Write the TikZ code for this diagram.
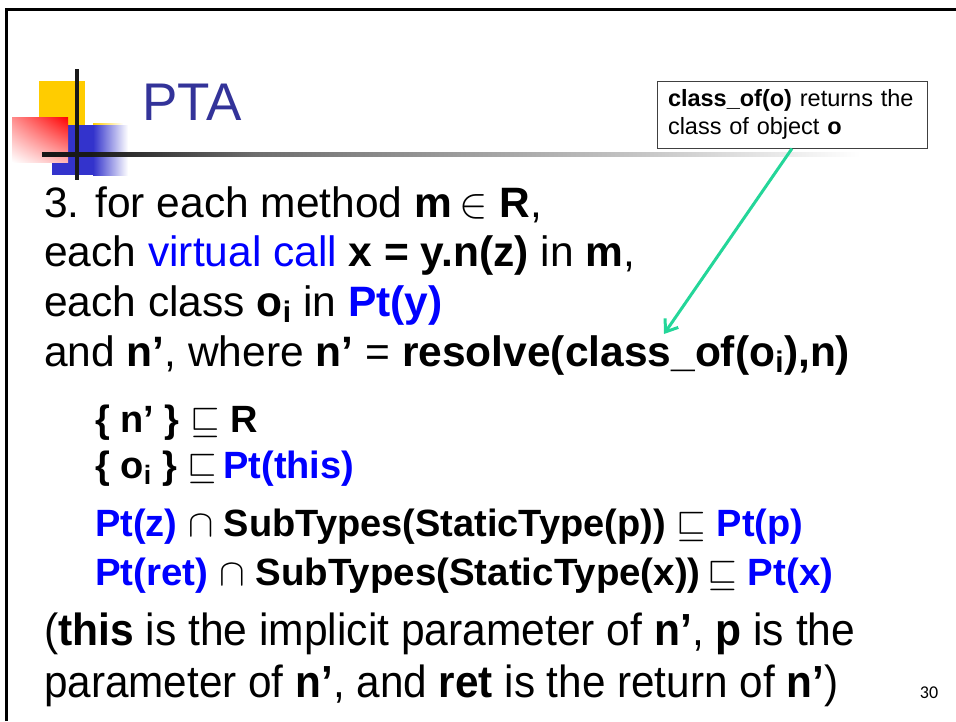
\RequirePackage{fix-cm}
\documentclass[tikz,border=0pt]{standalone}
\usepackage{fontspec}
\setmainfont{Liberation Sans}
\newfontfamily\pagefont{Carlito}
\usetikzlibrary{arrows.meta,shadings}

\definecolor{ptablue}{RGB}{51,51,153}
\definecolor{callblue}{RGB}{0,0,255}
\definecolor{logoyellow}{RGB}{255,204,0}
\definecolor{logoblue}{RGB}{51,51,204}
\definecolor{pointgreen}{RGB}{36,214,153}

\pgfdeclarehorizontalshading{rulefade}{100bp}{color(0bp)=(black); color(28bp)=(black!90); color(38bp)=(black!57); color(62bp)=(black!22); color(75bp)=(white); color(100bp)=(white)}

\newcommand\squeeze[2]{\resizebox{#1}{\height}{#2}}

\begin{document}
\begin{tikzpicture}[x=1pt, y=-1pt]

\tikzstyle{mainline} = [anchor=base west, inner sep=0pt, font=\fontsize{42.5}{48}\selectfont]
\tikzstyle{condline} = [anchor=base west, inner sep=0pt, font=\fontsize{38}{42}\selectfont\bfseries]
\tikzstyle{noteline} = [anchor=base west, inner sep=0pt, font=\fontsize{45}{50}\selectfont]
\tikzstyle{callout} = [draw=black!75, line width=1pt, fill=white, minimum width=270pt, minimum height=67pt, text width=248pt, align=left, font=\fontsize{23.5}{28}\selectfont]

\useasboundingbox (0,0) rectangle (956,721);

% slide frame
\draw[line width=3pt] (6,721) -- (6,9.5) -- (956,9.5);

% logo
\fill[logoyellow] (39,81) rectangle (85,125);
\shade[left color=logoyellow, right color=white] (93,123) rectangle (123,125);
\fill[logoblue] (52,125) rectangle (93,175);
\shade[left color=logoblue, right color=white] (93,125) rectangle (128,175);
\shade[upper right=red, upper left=red!45!white, lower left=white, lower right=red!30!white] (12,117) rectangle (68,162);
\shade[shading=rulefade] (42,152) rectangle (860,156);
\fill[black!90] (75,69) rectangle (79,180);

\node[anchor=base west, inner sep=0pt, font=\fontsize{53}{60}\selectfont, text=ptablue] (title) at (142,120) {PTA};

% rule text
\node[mainline] (forM) at (44,217) {3. for each method \textbf{m}\,$\in$ \textbf{R},};
\node[mainline] (forCall) at (44,266) {each \textcolor{callblue}{virtual call} \textbf{x = y.n(z)} in \textbf{m},};
\node[mainline] (forObj) at (44,316) {each class \textbf{o\textsubscript{i}} in \textcolor{callblue}{\textbf{Pt(y)}}};
\node[mainline] (forRes) at (44,366) {and \textbf{n’}, where \textbf{n’} = \textbf{resolve(class\_of(o\textsubscript{i}),n)}};

\node[condline] (inR) at (95,432) {\{ n’ \} $\sqsubseteq$ R};
\node[condline] (inThis) at (95,478) {\{ o\textsubscript{i} \} $\sqsubseteq$\,\textcolor{callblue}{Pt(this)}};
\node[condline] (inParam) at (95,536) {\squeeze{708pt}{\textcolor{callblue}{Pt(z)} $\cap$ SubTypes(StaticType(p)) $\sqsubseteq$ \textcolor{callblue}{Pt(p)}}};
\node[condline] (inRet) at (95,585) {\squeeze{738pt}{\textcolor{callblue}{Pt(ret)} $\cap$ SubTypes(StaticType(x))\,$\sqsubseteq$ \textcolor{callblue}{Pt(x)}}};

\node[noteline] (noteA) at (44,645) {\squeeze{811pt}{(\textbf{this} is the implicit parameter of \textbf{n’}, \textbf{p} is the}};
\node[noteline] (noteB) at (44,697) {\squeeze{794pt}{parameter of \textbf{n’}, and \textbf{ret} is the return of \textbf{n’})}};

% callout
\node[callout] (classOf) at (792,114.5) {\textbf{class\_of(o)} returns the\\ class of object \textbf{o}};
\coordinate (ofTip) at (664,334);
\draw[pointgreen, line width=3pt, -{Straight Barb[length=11pt,width=16pt]}] (classOf.south) -- (ofTip);

\node[font=\pagefont\fontsize{18}{20}\selectfont] (pageNum) at (929,693) {30};

\end{tikzpicture}
\end{document}
